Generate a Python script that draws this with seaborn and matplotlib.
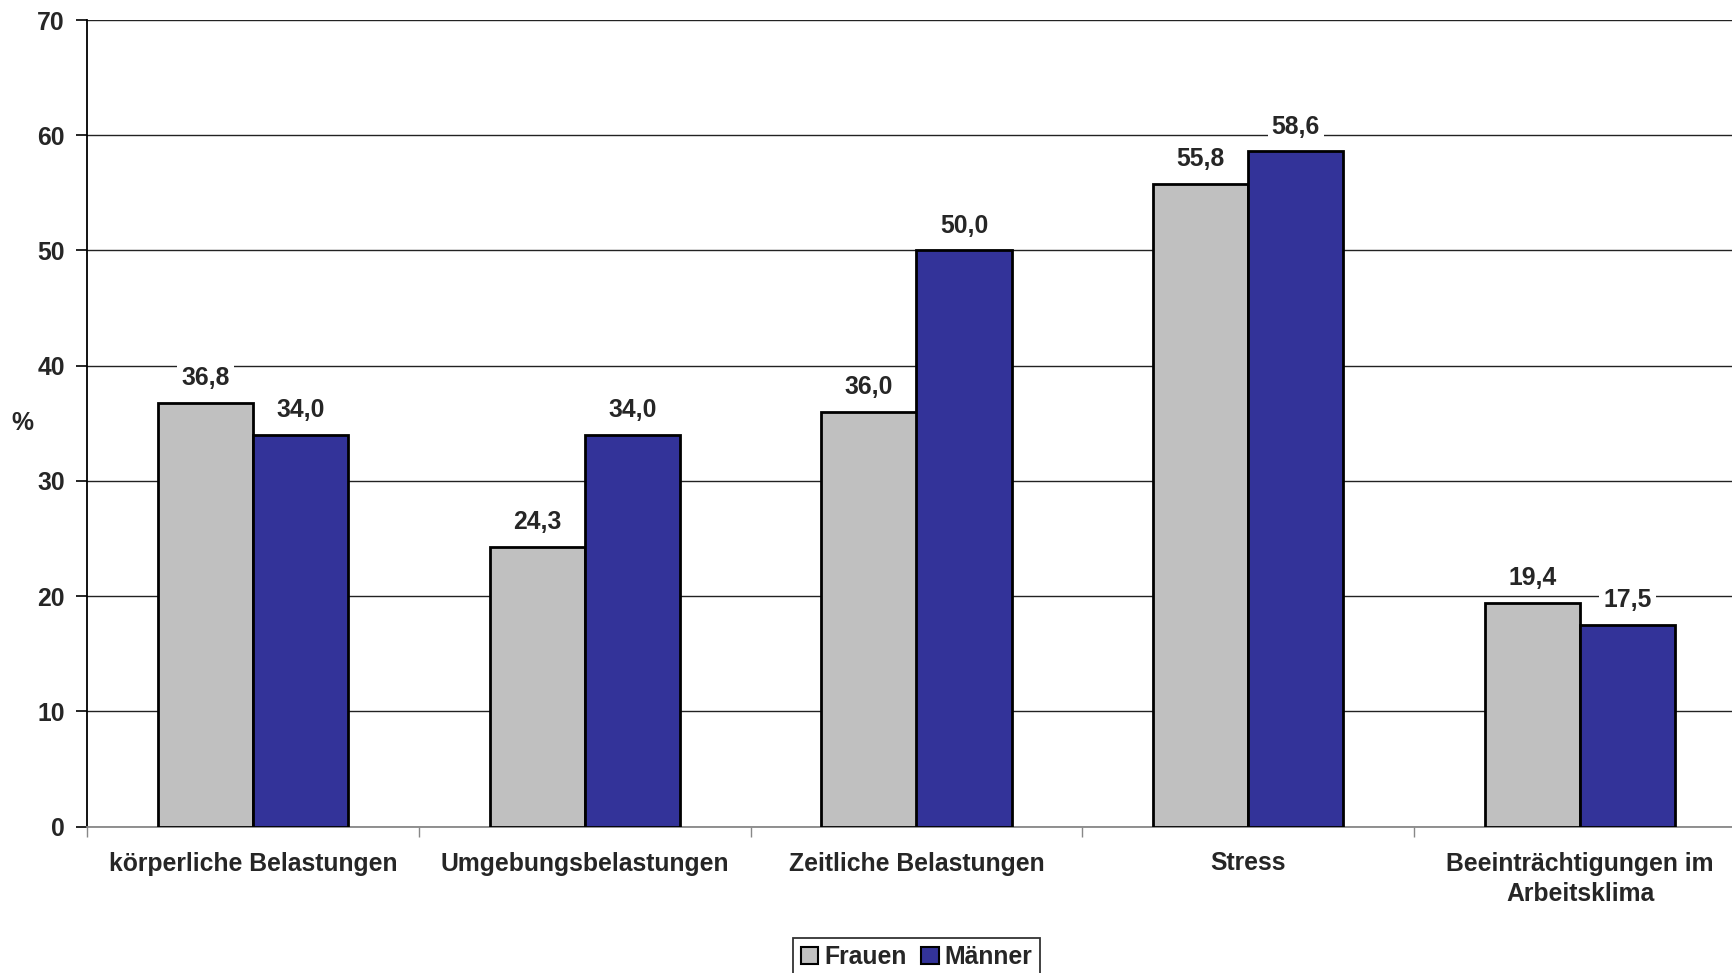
import pandas as pd
import numpy as np
import matplotlib
matplotlib.use('Agg')
import matplotlib.pyplot as plt
import seaborn as sns

# data
categories = ['körperliche Belastungen', 'Umgebungsbelastungen', 'Zeitliche Belastungen',
              'Stress', 'Beeinträchtigungen im\nArbeitsklima']
frauen = [36.8, 24.3, 36.0, 55.8, 19.4]
maenner = [34.0, 34.0, 50.0, 58.6, 17.5]
groups = ['Frauen', 'Männer']
colors = ['#C0C0C0', '#333399']

df = pd.DataFrame({
    'Kategorie': categories * 2,
    'Gruppe': [groups[0]] * 5 + [groups[1]] * 5,
    'Wert': frauen + maenner,
})

sns.set_style('white')
plt.rcParams['font.family'] = ['Liberation Sans', 'DejaVu Sans']
plt.rcParams['font.weight'] = 'bold'
fs = 17.8

fig = plt.figure(figsize=(17.33, 9.73), dpi=100)
ax = fig.add_axes([87 / 1733, 1 - 826.5 / 973, (1746 - 87) / 1733, 806.5 / 973])

sns.barplot(data=df, x='Kategorie', y='Wert', hue='Gruppe', palette=colors, saturation=1,
            width=0.573, edgecolor='black', linewidth=2, ax=ax, zorder=3)

ax.set_ylim(0, 70)
ax.set_xlim(-0.5, 4.5)
ax.set_yticks(range(0, 71, 10))
ax.yaxis.grid(True, color='#222222', linewidth=1)
ax.set_axisbelow(True)

for s in ['top', 'right']:
    ax.spines[s].set_visible(False)
ax.spines['left'].set_color('black')
ax.spines['left'].set_linewidth(1.3)
ax.spines['bottom'].set_color('#888888')
ax.spines['bottom'].set_linewidth(1.3)

ax.tick_params(axis='y', which='major', direction='out', length=8, width=1.2,
               color='black', left=True, labelsize=fs, pad=8)
ax.tick_params(axis='x', which='major', length=0, labelsize=fs, pad=18)
ax.set_xticks(np.arange(-0.5, 5, 1), minor=True)
ax.tick_params(axis='x', which='minor', direction='out', length=7, width=1,
               color='#888888', bottom=True)
for lbl in ax.get_xticklabels() + ax.get_yticklabels():
    lbl.set_fontweight('bold')
for lbl in ax.get_xticklabels():
    lbl.set_linespacing(1.35)

ax.set_xlabel('')
ax.set_ylabel('%', rotation=0, fontsize=fs, fontweight='bold', va='center')
ax.yaxis.set_label_coords(-0.039, 0.5)

for cont in ax.containers:
    ax.bar_label(cont, labels=[f'{v:.1f}'.replace('.', ',') for v in cont.datavalues],
                 padding=9, fontsize=fs, fontweight='bold',
                 bbox=dict(facecolor='white', edgecolor='none', pad=3), zorder=4)

sns.move_legend(ax, 'upper center', bbox_to_anchor=(0.5, -0.123), ncol=2, title=None,
                frameon=True, fancybox=False, edgecolor='black', fontsize=fs,
                handlelength=0.7, handleheight=0.7, handletextpad=0.25,
                columnspacing=0.6, borderpad=0.3)
leg = ax.get_legend()
leg.get_frame().set_linewidth(1.3)
for t in leg.get_texts():
    t.set_fontweight('bold')
for h in leg.legend_handles:
    h.set_edgecolor('black')
    h.set_linewidth(1.5)

fig.savefig('out.png', dpi=100)
